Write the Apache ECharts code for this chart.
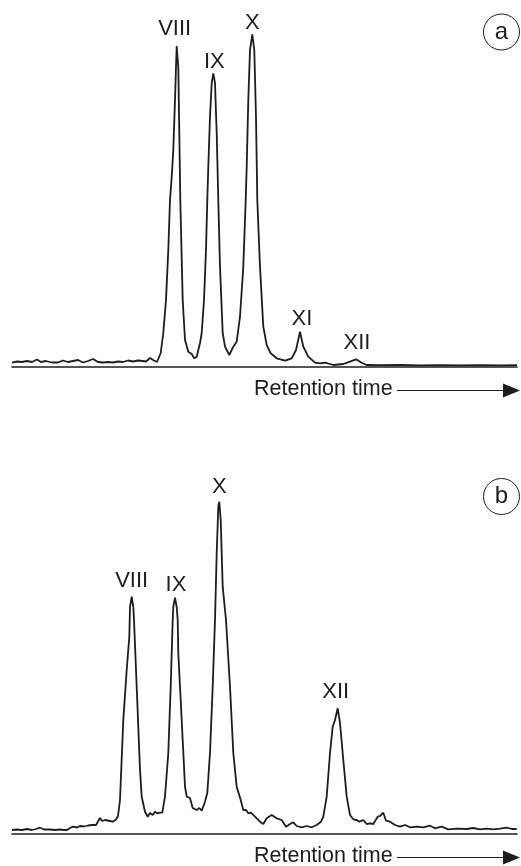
<!DOCTYPE html>
<html>
<head>
<meta charset="utf-8">
<script src="https://cdn.jsdelivr.net/npm/echarts@6/dist/echarts.min.js"></script>
<style>
html,body{margin:0;padding:0;background:#fff;}
#chart{width:521px;height:866px;}
</style>
</head>
<body>
<div id="chart"></div>
<script>
// ---- Chromatogram (a): retention time (arbitrary units) and detector signal (arbitrary units)
const timeA = [0,5,10,15,20,25,29,34,40,46,51,56,61,66,71,76,81,86,91,96,101,106,111,116,121,126,131,134,138,142,145,146.3,148.7,151.3,154,156.3,158,159.7,161.3,163,164,164.7,166.3,167.3,168.3,170.7,173,176.3,179.7,182.3,184.7,188,189.7,192,194,195.3,196.3,198,199.7,201.3,203,204.7,206.3,208,210.7,213,217.3,221.3,224.7,228,231.3,233.7,234.7,236.3,238,240.3,242.3,244,245.3,248,251.3,254.7,258.7,264.7,273,279.7,284,288,291.3,296.3,303,308,313,321.3,331.3,338,344,349.7,354.7,368,388,408,428,448,468,488,505];
const signalA = [3.8,5,4.5,5.5,4.5,7,4.5,5.5,4,4,6,4.5,5.5,6.5,4,5.5,7.5,4.5,4,4.5,4,5,4.5,6,5,6,5.5,5,8.5,6,4.5,6.5,13.5,33.5,66.5,116.5,166.5,189.5,216.5,266.5,299.5,320.5,299.5,233.5,166.5,66.5,26.5,14.8,12.5,8.2,9.8,23.5,33.5,66.5,116.5,166.5,199.8,249.8,283.5,293.2,283.5,233.5,166.5,99.8,33.5,19.8,11.5,19.8,24.8,49.8,99.8,166.5,199.8,266.5,316.5,332.2,316.5,249.8,166.5,99.8,39.8,21.5,13.2,8.2,5.8,8.2,16.5,34.8,19.8,9.8,3.8,3.2,3.8,1.5,2.5,4.8,7.2,3.8,1.5,1.3,1.5,1.2,1.4,1.2,1.4,1.2,1.3];
const peakNamesA = ['VIII','IX','X','XI','XII'];
const peakTimesA = [164.7,201.3,240.3,288,344];

// ---- Chromatogram (b)
const timeB = [0,5,10,15,20,24,28,32,38,43,48,52,55,58,61,65,68,72,76,80,84,86,88,90,91,93,95,98,101,104,106,108,111.3,114.7,117.3,118,119.7,121.3,122,124.7,128,129.7,133,135.7,138,140.7,143,145.3,148,150.3,153,156.3,158.7,160.7,161.3,163,164.7,165.7,166.3,169.7,173,174.7,178,180.7,184.7,187.3,189.7,193,195.3,198,200.7,203,204.7,206.3,207.3,208.7,210.7,214,218,221.3,224.7,228.7,231.3,234,236.3,239,243,248,251.3,254.7,259.7,264.7,269.7,274,278,281.3,284.7,289.7,294.7,299.7,304.7,309,311.3,314.7,318,320.7,323,325.7,328,331.3,334.7,338,341.3,344.7,347.3,351.3,354.7,358,361.3,365.7,368,371.3,374,378,383,388,393,398,404.7,411.3,418,423,429.7,436.3,444.7,454.7,461.3,468,474.7,481.3,488,494.7,499.7,504.7];
const signalB = [3.5,4,3.5,4.5,3.5,4.5,5.8,4,4,3.5,4,3.5,3.5,5.5,6.8,6,7.5,7,8,8.5,8.5,10.5,15.5,12.5,10.8,13.5,14.5,12.5,11.8,14,17.5,33.5,113.5,163.5,196.5,226.5,236.8,226.5,213.5,146.8,63.5,36.8,21.8,16.8,20.5,18.5,21.8,20.2,20.8,20.8,36.8,80.5,146.8,213.5,226.5,235.8,226.5,213.5,180.5,113.5,46.8,36.8,35.5,25.5,23.5,25.5,22.8,31.8,40.5,80.5,146.8,213.5,280.5,326.8,331.8,313.5,246.8,213.5,146.8,80.5,46.8,33.5,23.5,23.5,20.2,20.8,16.8,11.8,9.5,15.2,18.5,15.2,13.5,6.8,9.5,11.2,7.5,6.2,7.5,6.2,8.5,11.8,16.8,36.8,80.5,106.8,113.5,125.2,110.5,73.5,36.8,18.5,14.2,13.5,11.8,13.5,9.5,10.2,9.5,16.8,17.5,20.8,12.8,11.8,8.5,6.8,8.5,6.2,6.8,6.2,7.8,5.2,6.8,4.2,4.8,4.5,5.5,4.2,4.8,4.2,4.8,5.8,4.5,4.5];
const peakNamesB = ['VIII','IX','X','XII'];
const peakTimesB = [119.7,163,207.3,325.7];

const panelLetters = ['a','b'];
const axisTitle = 'Retention time';

// ---- build
const ink = '#1f1c1d';
const font = '"Liberation Sans", Arial, Helvetica, sans-serif';
function zip(t, s){ return t.map((v,i)=>[v, s[i]]); }
function peakPoints(names, times, t, s, offsets){
  return names.map((n,i)=>{
    const k = t.indexOf(times[i]);
    return {name:n, coord:[times[i], s[k]], label:{offset:offsets[i]}};
  });
}
const offA = [[-2,-17],[1,-11],[0,-11],[2,-13],[1,-16]];
const offB = [[0,-16],[1,-13],[0,-15],[-2,-16]];

function series(idx, data, peaks){
  return {
    type:'line', xAxisIndex:idx, yAxisIndex:idx, data:data,
    showSymbol:false, smooth:false, clip:false,
    lineStyle:{color:ink, width:1.8}, silent:true,
    markPoint:{
      symbol:'rect', symbolSize:1, silent:true,
      itemStyle:{color:'rgba(0,0,0,0)'},
      label:{show:true, position:'inside', formatter:'{b}', color:ink, fontSize:22, fontFamily:font},
      data:peaks
    }
  };
}
function xAxis(idx){
  return {type:'value', gridIndex:idx, min:0, max:505,
    axisLine:{show:true, onZero:false, lineStyle:{color:ink, width:1.6}},
    axisTick:{show:false}, axisLabel:{show:false}, splitLine:{show:false}};
}
function yAxis(idx){
  return {type:'value', gridIndex:idx, min:0, max:340, show:false, splitLine:{show:false}};
}
function arrowGroup(y){
  return [
    {type:'text', left:254, top:y-12, style:{text:axisTitle, fill:ink, font:'21.5px '+font}},
    {type:'line', shape:{x1:397, y1:y, x2:506, y2:y}, style:{stroke:ink, lineWidth:1}},
    {type:'polygon', shape:{points:[[503,y-7],[520,y],[503,y+7]]}, style:{fill:ink}}
  ];
}
function letter(cx, cy, ch){
  return [
    {type:'circle', shape:{cx:cx, cy:cy, r:18}, style:{fill:'#fff', stroke:ink, lineWidth:1}},
    {type:'text', x:cx, y:cy, style:{text:ch, fill:ink, font:'24px '+font, textAlign:'center', textVerticalAlign:'middle'}}
  ];
}

const chart = echarts.init(document.getElementById('chart'), null, {renderer:'canvas'});
chart.setOption({
  animation:false,
  backgroundColor:'#fff',
  grid:[
    {left:12, right:4, top:26.5, height:340},
    {left:12, right:4, top:493.5, height:340}
  ],
  xAxis:[xAxis(0), xAxis(1)],
  yAxis:[yAxis(0), yAxis(1)],
  series:[
    series(0, zip(timeA, signalA), peakPoints(peakNamesA, peakTimesA, timeA, signalA, offA)),
    series(1, zip(timeB, signalB), peakPoints(peakNamesB, peakTimesB, timeB, signalB, offB))
  ],
  graphic:[].concat(
    arrowGroup(390.5),
    arrowGroup(857.5),
    letter(501.5, 32, panelLetters[0]),
    letter(501.5, 496.5, panelLetters[1])
  )
});
</script>
</body>
</html>
